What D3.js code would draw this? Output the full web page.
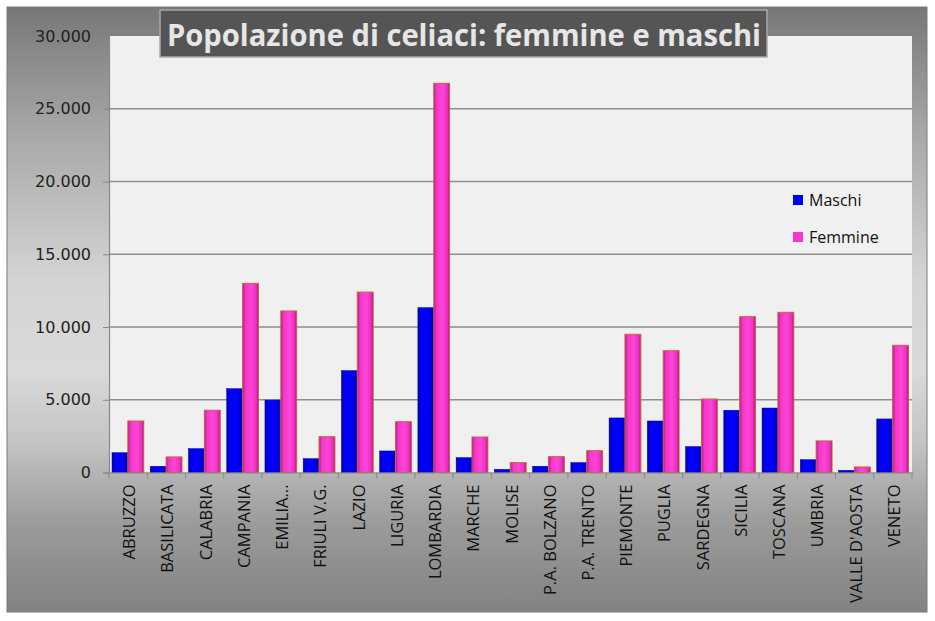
<!DOCTYPE html>
<html><head><meta charset="utf-8">
<script src="https://cdn.jsdelivr.net/npm/d3@7"></script>
<style>html,body{margin:0;padding:0;background:#fff;}svg{display:block;}</style>
</head><body>
<svg id="chart" width="935" height="621"></svg>
<script>
const categories = ["ABRUZZO","BASILICATA","CALABRIA","CAMPANIA","EMILIA...","FRIULI V.G.","LAZIO","LIGURIA","LOMBARDIA","MARCHE","MOLISE","P.A. BOLZANO","P.A. TRENTO","PIEMONTE","PUGLIA","SARDEGNA","SICILIA","TOSCANA","UMBRIA","VALLE D'AOSTA","VENETO"];
const maschi  = [1360, 430, 1640, 5760, 4980, 950, 7000, 1480, 11330, 1020, 220, 430, 680, 3750, 3540, 1780, 4280, 4430, 880, 150, 3680];
const femmine = [3540, 1070, 4280, 13000, 11100, 2460, 12400, 3490, 26750, 2440, 680, 1090, 1500, 9500, 8370, 5050, 10710, 11010, 2170, 380, 8740];
const seriesNames = ["Maschi","Femmine"];
const yTicks = [0, 5000, 10000, 15000, 20000, 25000, 30000];
const titleText = "Popolazione di celiaci: femmine e maschi";

const svg = d3.select("#chart");
const defs = svg.append("defs");

// background gradient
const bg = defs.append("linearGradient").attr("id","bgGrad").attr("x1",0).attr("y1",0).attr("x2",0).attr("y2",1);
[[0,"#777777"],[0.2,"#a6a6a6"],[0.45,"#d4d4d4"],[0.6,"#dadada"],[0.72,"#c4c4c4"],[0.85,"#9c9c9c"],[1,"#828282"]]
  .forEach(([o,c])=>bg.append("stop").attr("offset",o).attr("stop-color",c));

const gB = defs.append("linearGradient").attr("id","gradM").attr("x1",0).attr("y1",0).attr("x2",1).attr("y2",0);
[[0,"#0000a8"],[0.2,"#0000f5"],[0.6,"#0000ff"],[1,"#0000b8"]].forEach(([o,c])=>gB.append("stop").attr("offset",o).attr("stop-color",c));
const gP = defs.append("linearGradient").attr("id","gradF").attr("x1",0).attr("y1",0).attr("x2",1).attr("y2",0);
[[0,"#b01c8c"],[0.18,"#f536c8"],[0.55,"#ff45d8"],[0.85,"#ec30c0"],[1,"#a5187f"]].forEach(([o,c])=>gP.append("stop").attr("offset",o).attr("stop-color",c));

svg.append("rect").attr("x",7).attr("y",7).attr("width",920).attr("height",605)
  .attr("fill","url(#bgGrad)").attr("stroke","#7a7a7a").attr("stroke-width",1);

const plot = {left:109, right:912, top:36, bottom:472.5};
svg.append("rect").attr("x",plot.left).attr("y",plot.top).attr("width",plot.right-plot.left).attr("height",plot.bottom-plot.top).attr("fill","#f0f0f0");

const x = d3.scaleBand().domain(categories).range([plot.left, plot.right]).paddingInner(0).paddingOuter(0);
const xs = d3.scaleBand().domain(seriesNames).range([3, x.bandwidth()-3.5]);
const y = d3.scaleLinear().domain([0,30000]).range([plot.bottom, plot.top]);
const itLocale = d3.formatLocale({decimal:",", thousands:".", grouping:[3], currency:["€",""]});
const fmt = itLocale.format(",");

// gridlines
svg.append("g").selectAll("line").data(yTicks.filter(t=>t>0 && t<30000)).join("line")
  .attr("x1",plot.left).attr("x2",plot.right).attr("y1",d=>y(d)).attr("y2",d=>y(d))
  .attr("stroke","#8e8e8e").attr("stroke-width",1.5);

// bars
const colors = {Maschi:"url(#gradM)", Femmine:"url(#gradF)"};
const strokes = {Maschi:"#0000a0", Femmine:"#c8643c"};
const data = categories.map((c,i)=>({cat:c, vals:[{s:"Maschi",v:maschi[i]},{s:"Femmine",v:femmine[i]}]}));
const groups = svg.append("g").selectAll("g").data(data).join("g").attr("transform",d=>`translate(${x(d.cat)},0)`);
groups.selectAll("rect").data(d=>d.vals).join("rect")
  .attr("x",d=>xs(d.s)).attr("width",xs.bandwidth())
  .attr("y",d=>y(d.v)).attr("height",d=>y(0)-y(d.v))
  .attr("fill",d=>colors[d.s]).attr("stroke",d=>strokes[d.s]).attr("stroke-width",d=>d.s==="Femmine"?1:0.5);

// y axis
const yAxis = d3.axisLeft(y).tickValues(yTicks).tickFormat(fmt).tickSize(6).tickPadding(12);
const ya = svg.append("g").attr("transform",`translate(${plot.left},0)`).call(yAxis);
ya.select(".domain").attr("stroke","#888").attr("stroke-width",1.2);
ya.selectAll(".tick line").attr("stroke","#888");
ya.selectAll(".tick text").attr("font-family","DejaVu Sans").attr("font-size",16).attr("fill","#222");

// x axis
const xa = svg.append("g").attr("transform",`translate(0,${plot.bottom})`).call(d3.axisBottom(x).tickSize(0).tickFormat(""));
xa.select(".domain").attr("stroke","#888").attr("stroke-width",1.2);
xa.selectAll(".tick").remove();
svg.append("g").selectAll("line").data(categories.concat(["__end"])).join("line")
  .attr("x1",(d,i)=>i<categories.length?x(d):x.range()[1]).attr("x2",(d,i)=>i<categories.length?x(d):x.range()[1])
  .attr("y1",plot.bottom).attr("y2",plot.bottom+6).attr("stroke","#888");
svg.append("g").selectAll("text").data(categories).join("text")
  .attr("transform",d=>`translate(${x(d)+x.bandwidth()/2+7},${plot.bottom+12}) rotate(-90)`)
  .attr("text-anchor","end").attr("font-family","Open Sans").attr("font-size",16.5).attr("fill","#111")
  .text(d=>d);

// title
svg.append("rect").attr("x",160).attr("y",10).attr("width",607).attr("height",47)
  .attr("fill","#555555").attr("stroke","#a8a8a8").attr("stroke-width",1.5);
svg.append("text").attr("x",464).attr("y",46).attr("text-anchor","middle")
  .attr("font-family","Open Sans").attr("font-weight",700).attr("font-size",30).attr("fill","#e6e6e6")
  .attr("textLength",594).attr("lengthAdjust","spacingAndGlyphs").text(titleText);

// legend
const legColors = {Maschi:"#0000ff", Femmine:"#ff33cc"};
const leg = svg.append("g").selectAll("g").data(seriesNames).join("g")
  .attr("transform",(d,i)=>`translate(793,${195+i*37})`);
leg.append("rect").attr("width",10).attr("height",10).attr("fill",d=>legColors[d]);
leg.append("text").attr("x",16).attr("y",11).attr("font-family","Open Sans").attr("font-size",16).attr("fill","#111").text(d=>d);
</script>
</body></html>
